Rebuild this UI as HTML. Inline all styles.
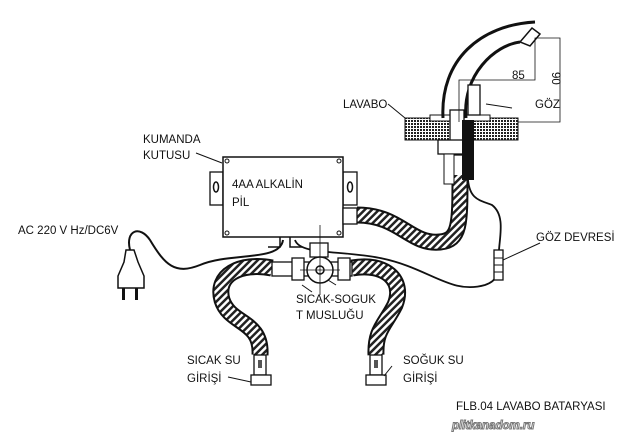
<!DOCTYPE html>
<html><head><meta charset="utf-8"><style>
html,body{margin:0;padding:0;background:#fff;}
svg{display:block;}
text{font-family:"Liberation Sans",sans-serif;font-size:11.5px;fill:#111;}
</style></head><body>
<svg width="636" height="432" viewBox="0 0 636 432" xmlns="http://www.w3.org/2000/svg">
<defs>
<pattern id="br" width="5" height="5" patternUnits="userSpaceOnUse" patternTransform="rotate(45)">
<rect width="5" height="5" fill="#fff"/><rect width="2.5" height="5" fill="#222"/>
</pattern>
<pattern id="hat" width="3" height="3" patternUnits="userSpaceOnUse">
<rect width="3" height="3" fill="#fff"/><rect width="2" height="2" fill="#222"/>
</pattern>
</defs>
<g fill="none" stroke-linecap="butt">
<path d="M357,215 C400,215 410,245 440,242 C460,240 460,225 460,175" stroke="#111" stroke-width="17"/>
<path d="M357,215 C400,215 410,245 440,242 C460,240 460,225 460,175" stroke="url(#br)" stroke-width="13"/>
<path d="M272,268 C240,262 215,275 222,300 C230,325 262,320 260,355" stroke="#111" stroke-width="17"/>
<path d="M272,268 C240,262 215,275 222,300 C230,325 262,320 260,355" stroke="url(#br)" stroke-width="13"/>
<path d="M352,268 C385,262 405,280 395,305 C385,325 375,330 376,355" stroke="#111" stroke-width="17"/>
<path d="M352,268 C385,262 405,280 395,305 C385,325 375,330 376,355" stroke="url(#br)" stroke-width="13"/>
<path d="M130,250 C125,230 140,225 150,240 C165,265 175,275 200,265 C230,252 280,262 283,240" stroke="#111" stroke-width="2"/>
<path d="M295,240 C300,255 340,250 380,258 C430,268 450,295 485,285 C500,280 498,270 498,262" stroke="#111" stroke-width="1.8"/>
<path d="M468,180 C470,200 480,200 492,205 C505,215 500,235 499,250" stroke="#111" stroke-width="1.8"/>
<rect x="494" y="250" width="9" height="30" fill="#fff" stroke="#111" stroke-width="1.3"/>
<line x1="494" y1="258" x2="503" y2="258" stroke="#111"/><line x1="494" y1="265" x2="503" y2="265" stroke="#111"/><line x1="494" y1="272" x2="503" y2="272" stroke="#111"/>
<rect x="210" y="172" width="13" height="33" fill="#fff" stroke="#111" stroke-width="1.3"/>
<rect x="343" y="172" width="14" height="33" fill="#fff" stroke="#111" stroke-width="1.3"/>
<ellipse cx="216" cy="187" rx="2.5" ry="5" stroke="#111" stroke-width="1.5"/>
<ellipse cx="350" cy="187" rx="2.5" ry="5" stroke="#111" stroke-width="1.5"/>
<rect x="223" y="157" width="120" height="80" fill="#fff" stroke="#111" stroke-width="1.5"/>
<circle cx="227" cy="161" r="2" stroke="#111"/><circle cx="339" cy="161" r="2" stroke="#111"/>
<circle cx="227" cy="233" r="2" stroke="#111"/><circle cx="339" cy="233" r="2" stroke="#111"/>
<rect x="343" y="208" width="14" height="16" fill="#fff" stroke="#111" stroke-width="1.3"/>
<path d="M280,237 v10 h-12 M290,237 v10 h12" stroke="#111" stroke-width="1.5"/>
<rect x="310" y="243" width="18" height="14" fill="#fff" stroke="#111" stroke-width="1.3"/>
<rect x="272" y="262" width="80" height="14" fill="#fff" stroke="#111" stroke-width="1.3"/>
<rect x="292" y="258" width="12" height="22" fill="#fff" stroke="#111" stroke-width="1.3"/>
<rect x="338" y="258" width="12" height="22" fill="#fff" stroke="#111" stroke-width="1.3"/>
<circle cx="320" cy="270" r="13" fill="#fff" stroke="#111" stroke-width="1.5"/>
<circle cx="320" cy="270" r="4" stroke="#111" stroke-width="1.5"/>
<line x1="320" y1="225" x2="320" y2="295" stroke="#111" stroke-width="0.8"/>
<line x1="300" y1="270" x2="340" y2="270" stroke="#111" stroke-width="0.8"/>
<rect x="254" y="355" width="12" height="20" fill="#fff" stroke="#111" stroke-width="1.3"/>
<rect x="258" y="360" width="4" height="8" fill="#555"/>
<rect x="251" y="375" width="20" height="10" fill="#fff" stroke="#111" stroke-width="1.3"/>
<rect x="370" y="355" width="12" height="20" fill="#fff" stroke="#111" stroke-width="1.3"/>
<rect x="374" y="360" width="4" height="8" fill="#555"/>
<rect x="366" y="375" width="20" height="10" fill="#fff" stroke="#111" stroke-width="1.3"/>
<path d="M126,250 h8 l4,12 l6,14 v12 h-26 v-12 l6,-14 z" fill="#fff" stroke="#111" stroke-width="1.5"/>
<rect x="122" y="288" width="3" height="12" fill="#111"/><rect x="135" y="288" width="3" height="12" fill="#111"/>
<rect x="405" y="118" width="113" height="22" fill="url(#hat)" stroke="#111"/>
<rect x="430" y="115" width="60" height="6" fill="#fff" stroke="#111"/>
<path d="M443,118 C440,60 480,25 535,22" stroke="#111" stroke-width="3"/>
<path d="M466,118 C462,75 495,45 520,42" stroke="#111" stroke-width="3"/>
<path d="M520,42 l12,-14 l8,6 l-10,12 z" fill="#fff" stroke="#111" stroke-width="1.5"/>
<rect x="450" y="110" width="14" height="45" fill="#fff" stroke="#111" stroke-width="1.3"/>
<rect x="468" y="85" width="12" height="30" fill="#fff" stroke="#111" stroke-width="1.3"/>
<rect x="438" y="140" width="28" height="14" fill="#fff" stroke="#111" stroke-width="1.3"/>
<rect x="462" y="120" width="12" height="60" fill="#111"/>
<rect x="444" y="154" width="10" height="30" fill="#fff" stroke="#111"/>
<path d="M459,122 V80 H535 V38 H560 V122 H518" stroke="#111" stroke-width="0.8"/>
<path d="M196,153 L222,163 M388,104 L405,118 M486,104 L512,108 M540,243 L503,260 M302,285 L312,292 M336,285 L328,280 M228,377 L251,382 M392,366 L384,376" stroke="#111" stroke-width="1"/>
</g>
<text x="143" y="143">KUMANDA</text>
<text x="143" y="159">KUTUSU</text>
<text x="232" y="188" font-size="12">4AA ALKALİN</text>
<text x="232" y="206" font-size="12">PİL</text>
<text x="18" y="234">AC 220 V Hz/DC6V</text>
<text x="343" y="108">LAVABO</text>
<text x="512" y="79">85</text>
<text x="535" y="108">GÖZ</text>
<text x="0" y="0" transform="translate(552,72) rotate(90)">90</text>
<text x="536" y="241">GÖZ DEVRESİ</text>
<text x="296" y="303">SICAK-SOGUK</text>
<text x="296" y="319">T MUSLUĞU</text>
<text x="187" y="364">SICAK SU</text>
<text x="187" y="382">GİRİŞİ</text>
<text x="403" y="364">SOĞUK SU</text>
<text x="403" y="382">GİRİŞİ</text>
<text x="456" y="410" font-size="10">FLB.04 LAVABO BATARYASI</text>
<text x="452" y="429" font-size="26" font-style="italic" font-weight="bold" style="fill:#fff;stroke:#777;stroke-width:1;letter-spacing:0px">plitkanadom.ru</text>
</svg>
</body></html>
